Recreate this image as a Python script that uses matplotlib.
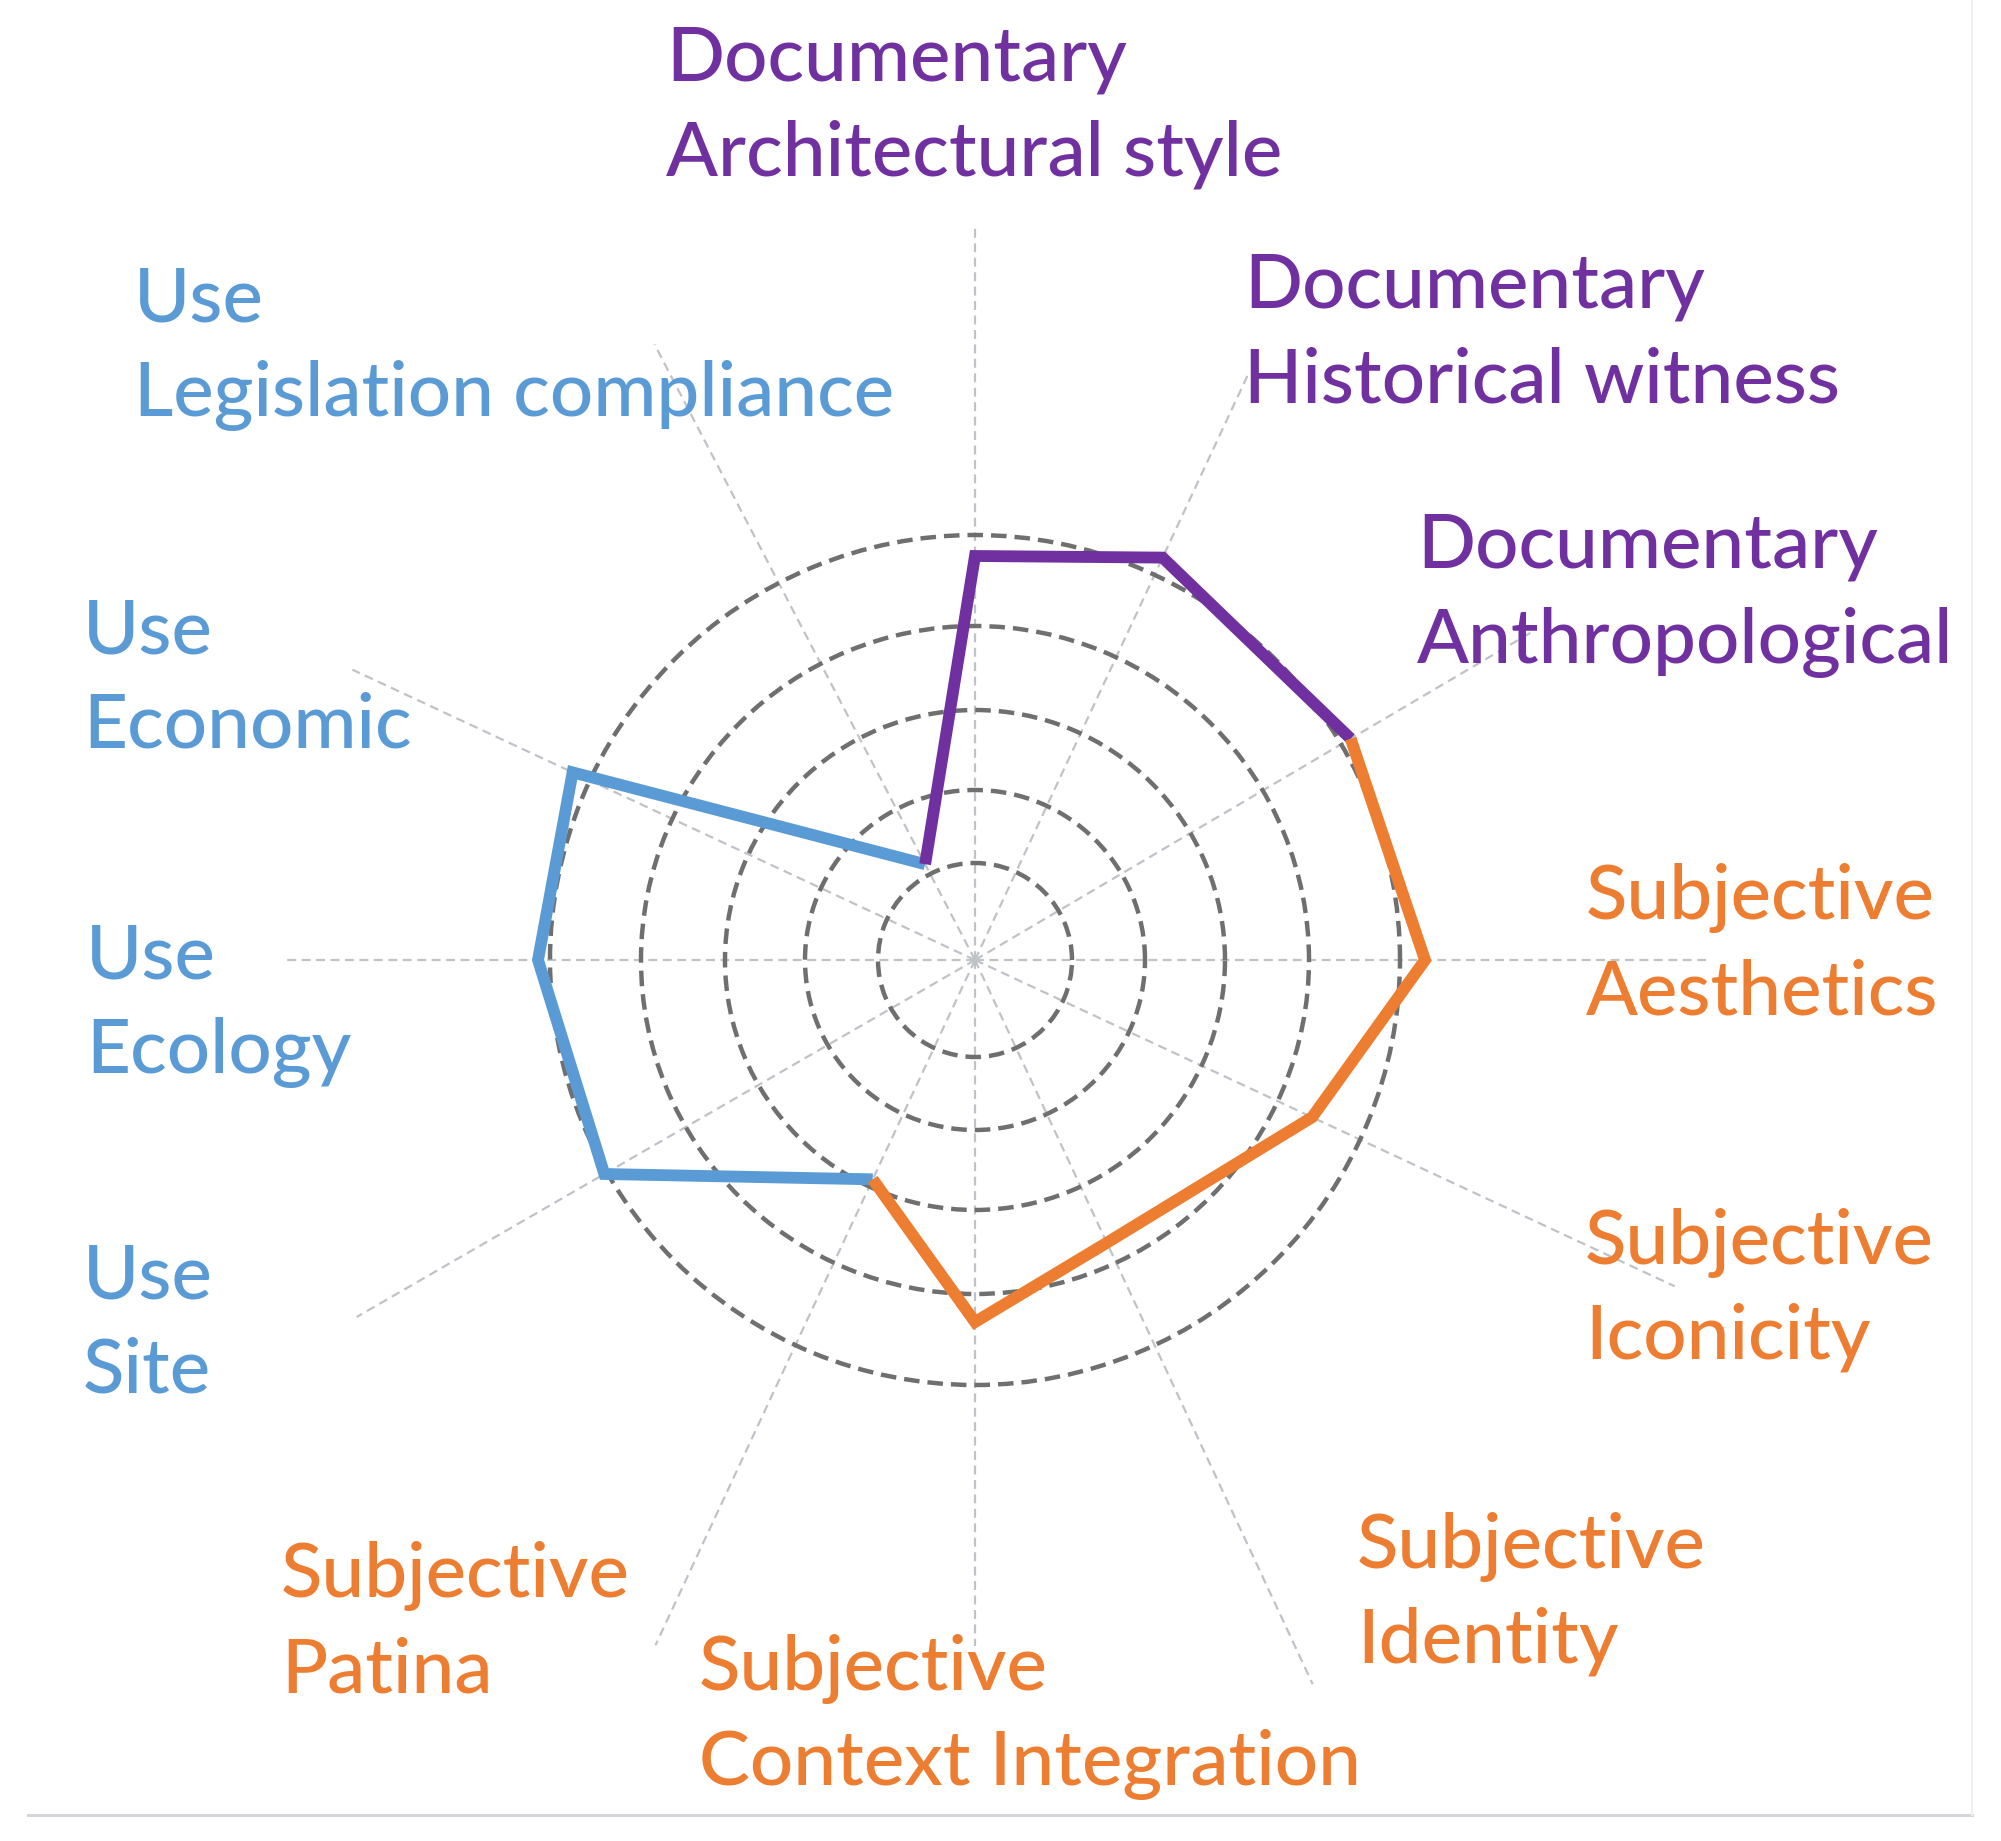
import numpy as np
import matplotlib
matplotlib.use("Agg")
import matplotlib.pyplot as plt

plt.rcParams["font.family"] = ["Lato", "DejaVu Sans"]

# ── data ─────────────────────────────────────
categories = [
    "Documentary\nArchitectural style",
    "Documentary\nHistorical witness",
    "Documentary\nAnthropological",
    "Subjective\nAesthetics",
    "Subjective\nIconicity",
    "Subjective\nIdentity",
    "Subjective\nContext Integration",
    "Subjective\nPatina",
    "Use\nSite",
    "Use\nEcology",
    "Use\nEconomic",
    "Use\nLegislation compliance",
]
axis_angle_deg = [90, 65, 30.5, 0, -25, -65, -90, -115, -150, 180, 155, 117.5]
spoke_length   = [7.32, 6.5, 6.45, 7.35, 7.72, 7.99, 6.86, 7.56, 7.14, 6.93, 6.87, 6.94]
ring_radii     = [0.97, 1.70, 2.50, 3.34, 4.25]
values         = [4.04, 4.44, 4.36, 4.50, 3.72, 3.12, 3.62, 2.42, 4.28, 4.37, 4.44, 1.08]

# which axes each coloured segment runs through
purple_idx = [11, 0, 1, 2]
orange_idx = [2, 3, 4, 5, 6, 7]
blue_idx   = [7, 8, 9, 10, 11]

label_group = ["doc"] * 3 + ["subj"] * 5 + ["use"] * 4
# label anchor (left x, vertical centre), pixels from the top-left
label_x = [666, 1244, 1417, 1586, 1585, 1357, 699, 281, 83, 86, 83, 134]
label_y = [107, 334, 595, 945, 1290, 1594, 1717, 1623, 1324, 1005, 679, 348]

COLORS = {"doc": "#7030A0", "subj": "#ED7D31", "use": "#5B9BD5"}

# ── figure ───────────────────────────────────
W, FH = 2001, 1841
CX, CY, H = 975, 960, 820
fig = plt.figure(figsize=(W / 100, FH / 100), dpi=100, facecolor="white")
ax = fig.add_axes([(CX - H) / W, (FH - CY - H) / FH, 2 * H / W, 2 * H / FH],
                  projection="polar")
ax.set_facecolor("none")
ax.set_ylim(0, H / 100)
ax.spines["polar"].set_visible(False)
ax.set_xticks([])
ax.set_yticks(ring_radii)
ax.set_yticklabels([])
ax.xaxis.grid(False)
ax.yaxis.grid(True, color="#6f6f6f", lw=3.2, linestyle=(0, (3.5, 1.8)))

theta = np.deg2rad(axis_angle_deg)

for t, L in zip(theta, spoke_length):
    ax.plot([t, t], [0, L], color="#bfc3c8", lw=1.6, linestyle=(0, (4, 2.5)), zorder=1)

for idx, key in [(blue_idx, "use"), (purple_idx, "doc"), (orange_idx, "subj")]:
    ax.plot(theta[idx], np.array(values)[idx], color=COLORS[key], lw=8.5,
            solid_joinstyle="miter", solid_capstyle="butt", zorder=3)

for lab, g, x, y in zip(categories, label_group, label_x, label_y):
    fig.text(x / W, 1 - y / FH, lab, color=COLORS[g], fontsize=55,
             fontweight="medium", ha="left", va="center", linespacing=1.45)

# bottom rule and faint right border
fig.add_artist(plt.Line2D([28 / W, 1972 / W], [1 - 1815 / FH] * 2,
                          color="#d4d6d9", lw=2.2))
fig.add_artist(plt.Line2D([1972 / W] * 2, [1 - 1815 / FH, 1.0],
                          color="#f0f0f0", lw=1.5))

fig.savefig("out.png", dpi=100, facecolor="white")
